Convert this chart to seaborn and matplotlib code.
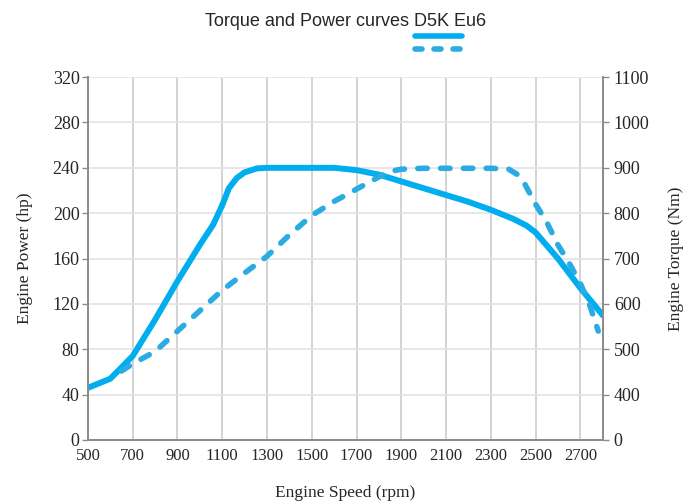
import matplotlib
matplotlib.use('Agg')
import matplotlib.pyplot as plt
from matplotlib.lines import Line2D
import seaborn as sns
import pandas as pd

# Power curve (left axis, hp).
power_rpm = [500, 600, 700, 800, 900, 1000, 1060, 1100, 1130, 1165, 1200,
             1255, 1300, 1400, 1500, 1600, 1700, 1800, 1900, 2000, 2100,
             2200, 2300, 2400, 2460, 2500, 2600, 2700, 2800]
power_hp = [46, 54, 74, 106, 140, 172, 190, 207, 222, 231, 236,
            239.5, 240, 240, 240, 240, 238, 234, 228, 222, 216,
            210, 203, 195, 189, 183, 160, 134, 110]

# Torque curve (right axis, Nm).
torque_rpm = [650, 700, 800, 900, 1000, 1100, 1200, 1300, 1400, 1500, 1600,
              1700, 1800, 1850, 1900, 2000, 2100, 2200, 2300, 2380, 2420,
              2450, 2500, 2550, 2600, 2650, 2700, 2740, 2780]
torque_nm = [452, 468, 495, 540, 585, 630, 668, 705, 752, 795, 826,
             853, 880, 892, 897, 899, 899, 899, 899, 897, 885,
             866, 820, 780, 730, 690, 645, 600, 540]

x_ticks = list(range(500, 2701, 200))
power_ticks = list(range(0, 321, 40))
torque_ticks = [300, 400, 500, 600, 700, 800, 900, 1000, 1100]
torque_labels = ["0", "400", "500", "600", "700", "800", "900", "1000", "1100"]

power_df = pd.DataFrame({"rpm": power_rpm, "hp": power_hp})
torque_df = pd.DataFrame({"rpm": torque_rpm, "nm": torque_nm})

sns.set_style("white")
plt.rcParams['font.family'] = ['Liberation Serif', 'DejaVu Serif']

solid_color = "#00aeef"
dash_color = "#2aabe2"
axis_color = "#8c8c8c"

fig = plt.figure(figsize=(6.92, 5.04), dpi=100)
ax = fig.add_axes([0.127, 0.127, 0.744, 0.720])

ax.set_xlim(500, 2800)
ax.set_ylim(0, 320)
ax.set_xticks(x_ticks)
ax.set_yticks(power_ticks)

# Gridlines.
ax.yaxis.grid(True, color="#e3e3e3", linewidth=1.2)
ax.xaxis.grid(True, color="#cccccc", linewidth=1.2)
ax.set_axisbelow(True)

sns.lineplot(data=power_df, x="rpm", y="hp", ax=ax, color=solid_color,
             linewidth=4.3, sort=False, solid_capstyle="round",
             solid_joinstyle="round")

ax2 = ax.twinx()
ax2.set_ylim(300, 1100)
ax2.set_yticks(torque_ticks)
ax2.set_yticklabels(torque_labels)
sns.lineplot(data=torque_df, x="rpm", y="nm", ax=ax2, color=dash_color,
             linewidth=4.0, sort=False, dash_capstyle="round")
ax2.lines[0].set_dashes([1.7, 2.4])

for a in (ax, ax2):
    a.spines["top"].set_visible(False)
    for side in ("left", "right", "bottom"):
        a.spines[side].set_color(axis_color)
        a.spines[side].set_linewidth(1.3)

ax.tick_params(axis="y", length=4, width=1, color=axis_color,
               labelsize=13, pad=2)
ax.tick_params(axis="x", length=0, labelsize=12, pad=6)
ax2.tick_params(axis="y", length=4, width=1, color=axis_color,
                labelsize=13, pad=4)

ax.set_xlabel("Engine Speed (rpm)", fontsize=12.5, labelpad=15)
ax.set_ylabel("Engine Power (hp)", fontsize=12.5, labelpad=14)
ax2.set_ylabel("Engine Torque (Nm)", fontsize=12.5, labelpad=13)

fig.text(0.5, 0.958, "Torque and Power curves D5K Eu6",
         family=["Liberation Sans", "DejaVu Sans"], fontsize=13,
         ha="center", va="center")

handles = [Line2D([], [], color=solid_color, linewidth=4.0,
                  solid_capstyle="round"),
           Line2D([], [], color=dash_color, linewidth=4.0,
                  dashes=[1.26, 2.16], dash_capstyle="round")]
fig.legend(handles=handles, labels=["", ""], loc="center",
           bbox_to_anchor=(0.634, 0.913), frameon=False, handlelength=3.4,
           handletextpad=0, labelspacing=0.05, borderpad=0)

fig.savefig("out.png", dpi=100)
plt.close()
